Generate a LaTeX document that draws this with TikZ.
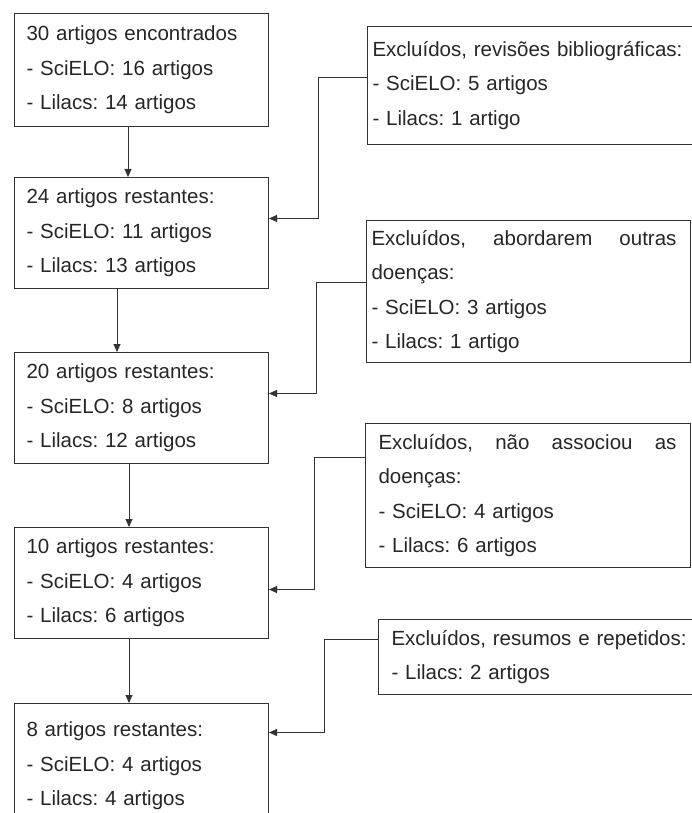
\documentclass[tikz,border=0pt]{standalone}
\usepackage{fontspec}
\setmainfont{Liberation Sans}
\usepackage{tikz}
\usetikzlibrary{arrows.meta}

\begin{document}
\begin{tikzpicture}[x=1pt, y=-1pt, line width=1pt,
    box/.style={draw=black!80, anchor=north west, align=left, inner ysep=2pt,
        text=black!85, font=\fontsize{20.5}{34.5}\selectfont\frenchspacing},
    leftbox/.style={box, inner xsep=12pt, text width=230pt, minimum height=#1},
    link/.style={draw=black!80, -{Triangle[length=8pt, width=7pt]}}]
    \useasboundingbox (0,0) rectangle (691,813);

    % coluna principal
    \node[leftbox=113pt] (b1) at (14,13) {30 artigos encontrados\\- SciELO: 16 artigos\\- Lilacs: 14 artigos};
    \node[leftbox=111pt] (b2) at (14,177) {24 artigos restantes:\\- SciELO: 11 artigos\\- Lilacs: 13 artigos};
    \node[leftbox=111pt] (b3) at (14,352) {20 artigos restantes:\\- SciELO: 8 artigos\\- Lilacs: 12 artigos};
    \node[leftbox=111pt] (b4) at (14,527) {10 artigos restantes:\\- SciELO: 4 artigos\\- Lilacs: 6 artigos};
    \node[leftbox=125pt] (b5) at (14,703) {8 artigos restantes:\\- SciELO: 4 artigos\\- Lilacs: 4 artigos};

    % excluidos
    \node[box, inner xsep=5pt, text width=323pt, minimum height=118pt] (r1) at (367,26)
        {Excluídos, revisões bibliográficas:\\- SciELO: 5 artigos\\- Lilacs: 1 artigo};
    \node[box, inner xsep=5pt, text width=314pt, minimum height=142pt] (r2) at (366,220)
        {\makebox[305pt][l]{Excluídos,\hfill abordarem\hfill outras}\\doenças:\\- SciELO: 3 artigos\\- Lilacs: 1 artigo};
    \node[box, inner xsep=13pt, text width=299pt, minimum height=144pt] (r3) at (365,423)
        {\makebox[298pt][l]{Excluídos,\hfill não\hfill associou\hfill as}\\doenças:\\- SciELO: 4 artigos\\- Lilacs: 6 artigos};
    \node[box, inner xsep=13pt, text width=304pt, minimum height=75pt] (r4) at (378,619)
        {Excluídos, resumos e repetidos:\\- Lilacs: 2 artigos};

    \draw[link] (b1.south -| 128,0) -- (b2.north -| 128,0);
    \draw[link] (b2.south -| 117,0) -- (b3.north -| 117,0);
    \draw[link] (b3.south -| 129,0) -- (b4.north -| 129,0);
    \draw[link] (b4.south -| 129,0) -- (b5.north -| 129,0);

    \draw[link] ([yshift=8]r1.west) -- ++(-49,0) |- ([yshift=14.5]b2.east);
    \draw[link] ([yshift=9]r2.west) -- ++(-50,0) |- ([yshift=14.5]b3.east);
    \draw[link] ([yshift=38]r3.west) -- ++(-51,0) |- ([yshift=-6.5]b4.east);
    \draw[link] ([yshift=17.5]r4.west) -- ++(-54,0) |- ([yshift=33.5]b5.east);
\end{tikzpicture}
\end{document}
